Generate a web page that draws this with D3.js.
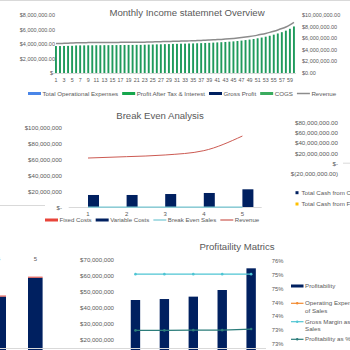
<!DOCTYPE html>
<html>
<head>
<meta charset="utf-8">
<script src="https://cdn.jsdelivr.net/npm/d3@7/dist/d3.min.js"></script>
<style>
body { margin: 0; background: #fff; }
svg { font-family: "Liberation Sans", Arial, sans-serif; }
</style>
</head>
<body>
<div id="dash"></div>
<script>
//Monthly income statement (values in $ millions)
var months = [1,2,3,4,5,6,7,8,9,10,11,12,13,14,15,16,17,18,19,20,21,22,23,24,25,26,27,28,29,30,
              31,32,33,34,35,36,37,38,39,40,41,42,43,44,45,46,47,48,49,50,51,52,53,54,55,56,57,58,59,60];
var cogs = [3.72,3.72,3.73,3.74,3.75,3.80,3.81,3.81,3.82,3.82,
            3.83,3.83,3.84,3.84,3.85,3.85,3.86,3.86,3.87,3.87,
            3.88,3.88,3.90,3.92,3.93,3.95,3.96,3.98,3.99,4.01,
            4.02,4.04,4.05,4.07,4.08,4.10,4.12,4.14,4.16,4.19,
            4.22,4.25,4.28,4.32,4.36,4.41,4.47,4.54,4.61,4.69,
            4.79,4.89,5.01,5.14,5.29,5.45,5.63,5.84,6.10,6.42];
var revenue = [5.05,5.06,5.07,5.09,5.14,5.18,5.19,5.19,5.20,5.20,
               5.21,5.21,5.22,5.22,5.23,5.23,5.24,5.24,5.25,5.25,
               5.26,5.26,5.28,5.30,5.32,5.34,5.36,5.38,5.40,5.42,
               5.44,5.46,5.48,5.50,5.52,5.55,5.58,5.61,5.64,5.68,
               5.72,5.76,5.81,5.86,5.92,5.99,6.07,6.16,6.26,6.37,
               6.50,6.64,6.80,6.98,7.18,7.40,7.64,7.92,8.28,8.70];
var topLeftTicks = [0,2,4,6,8];
var topLeftLabels = ["$-","$2,000,000.00","$4,000,000.00","$6,000,000.00","$8,000,000.00"];
var topRightTicks = [0,2,4,6,8,10];
var topRightLabels = ["$0.00","$2,000,000.00","$4,000,000.00","$6,000,000.00","$8,000,000.00","$10,000,000.00"];

//Break even analysis (values in $ millions)
var beYears = [1,2,3,4,5];
var fixedCosts = [0.3,0.3,0.3,0.3,0.3];
var variableCosts = [15.4,15.4,16.6,17.9,22.5];
var breakEvenSales = [0.3,0.3,0.3,0.3,0.3];
var beRevenue = [61.6,63.3,65.4,70.8,89.1];
var beTicks = [0,20,40,60,80,100];
var beLabels = ["$-","$20,000,000","$40,000,000","$60,000,000","$80,000,000","$100,000,000"];

//Cash flow chart (only its axis shows)
var cashTicks = [-20,0,20,40,60,80];
var cashLabels = ["$(20,000,000.00)","$-","$20,000,000.00","$40,000,000.00","$60,000,000.00","$80,000,000.00"];

//Bottom left chart (only years 4 and 5 show)
var blYears = [4,5];
var blMain = [47.1,58.9];
var blTop = [0.7,0.7];

//Profitability matrics
var pmYears = [1,2,3,4,5];
var profitability = [45.0,45.6,47.1,51.25,64.8];
var opexPct = [0.245,0.245,0.244,0.244,0.243];
var grossMarginPct = [0.7552,0.7552,0.7552,0.7552,0.7552];
var profitPct = [0.7347,0.7347,0.7348,0.7348,0.7352];
var pmTicks = [20,30,40,50,60,70];
var pmLabels = ["$20,000,000","$30,000,000","$40,000,000","$50,000,000","$60,000,000","$70,000,000"];
var pctTicks = [0.73,0.735,0.74,0.745,0.75,0.755,0.76];
var pctLabels = ["73%","73%","74%","74%","75%","75%","76%"];

var textGrey = "#595959";
var axisGrey = "#d9d9d9";
var navy = "#002060";

var svg = d3.select("#dash")
  .append("svg")
  .attr("width", 350)
  .attr("height", 350);

//helper: axis with fixed labels, no tick marks
function drawAxis(axis, tx, ty, fs, anchor) {
  var g = svg.append("g")
    .attr("transform", "translate(" + tx + "," + ty + ")")
    .call(axis.tickSize(0));
  g.select(".domain").remove();
  g.selectAll("text")
    .attr("fill", textGrey)
    .style("font-size", fs + "px")
    .style("font-family", "Liberation Sans, Arial, sans-serif");
  if (anchor) g.selectAll("text").attr("text-anchor", anchor);
  return g;
}

//helper: legend laid out in a row
function drawLegend(items, x0, y, fs) {
  var x = x0;
  items.forEach(function(it) {
    if (it.type == "bar") {
      svg.append("rect").attr("x", x).attr("y", y - 1.5).attr("width", 13).attr("height", 3).attr("fill", it.color);
    } else {
      svg.append("line").attr("x1", x).attr("x2", x + 13).attr("y1", y).attr("y2", y)
        .attr("stroke", it.color).attr("stroke-width", it.w || 1.2);
    }
    var t = svg.append("text").attr("x", x + 14.5).attr("y", y).attr("dy", "0.35em")
      .attr("fill", textGrey).style("font-size", fs + "px").text(it.name);
    x += 14.5 + t.node().getComputedTextLength() + 4;
  });
}

function title(txt, x, y) {
  svg.append("text").attr("x", x).attr("y", y).attr("text-anchor", "middle")
    .attr("fill", textGrey).style("font-size", "9.6px").text(txt);
}

//top border
svg.append("line").attr("x1", 0).attr("x2", 350).attr("y1", 0.5).attr("y2", 0.5).attr("stroke", axisGrey);

// ---------- Monthly income statement ----------
var xTop = d3.scaleBand().domain(months).range([54, 296]);
var yTopL = d3.scaleLinear().domain([0, 8]).range([73, 15]);
var yTopR = d3.scaleLinear().domain([0, 10]).range([72.5, 15]);

title("Monthly Income statemnet Overview", 187, 16);

drawAxis(d3.axisLeft(yTopL).tickValues(topLeftTicks).tickFormat(function(d, i) { return topLeftLabels[i]; }).tickPadding(0), 55, 0, 5.5);
drawAxis(d3.axisRight(yTopR).tickValues(topRightTicks).tickFormat(function(d, i) { return topRightLabels[i]; }).tickPadding(0), 302, 0, 5.5);

svg.selectAll(".cogs")
  .data(cogs)
  .enter()
  .append("rect")
  .attr("class", "cogs")
  .attr("x", function(d, i) { return xTop(months[i]) + xTop.bandwidth() / 2 - 1; })
  .attr("y", function(d) { return yTopL(d); })
  .attr("width", 1.9)
  .attr("height", function(d) { return yTopL(0) - yTopL(d); })
  .attr("fill", "#1f9a5c");

var xAxTop = drawAxis(d3.axisBottom(xTop).tickValues(months.filter(function(m) { return m % 2 == 1; })).tickPadding(5), 0, 73, 5.3);
svg.append("line").attr("x1", 54).attr("x2", 296).attr("y1", 73.5).attr("y2", 73.5).attr("stroke", axisGrey);

var lineTop = d3.line()
  .x(function(d, i) { return xTop(months[i]) + xTop.bandwidth() / 2; })
  .y(function(d) { return yTopR(d); })
  .curve(d3.curveMonotoneX);
svg.append("path").datum(revenue).attr("d", lineTop)
  .attr("fill", "none").attr("stroke", "#8c8c8c").attr("stroke-width", 1.5);

drawLegend([
  {name: "Total Operational Expenses", color: "#4a86e8", type: "bar"},
  {name: "Profit After Tax & Interest", color: "#16a64c", type: "bar"},
  {name: "Gross Profit", color: navy, type: "bar"},
  {name: "COGS", color: "#3aab5e", type: "bar"},
  {name: "Revenue", color: "#8c8c8c", type: "line", w: 1.5}
], 28, 93.5, 6.2);

// ---------- Break even analysis ----------
var xBE = d3.scaleBand().domain(beYears).range([68.7, 261.7]);
var yBE = d3.scaleLinear().domain([0, 100]).range([207.3, 127.3]);

title("Break Even Analysis", 160, 118.5);

drawAxis(d3.axisLeft(yBE).tickValues(beTicks).tickFormat(function(d, i) { return beLabels[i]; }).tickPadding(0), 62, 0, 6.1);

svg.selectAll(".fixed")
  .data(fixedCosts).enter().append("rect")
  .attr("x", function(d, i) { return xBE(beYears[i]) + xBE.bandwidth() / 2 - 11; })
  .attr("y", function(d) { return yBE(d); })
  .attr("width", 11)
  .attr("height", function(d) { return yBE(0) - yBE(d); })
  .attr("fill", "#e8443a");

svg.selectAll(".variable")
  .data(variableCosts).enter().append("rect")
  .attr("x", function(d, i) { return xBE(beYears[i]) + xBE.bandwidth() / 2; })
  .attr("y", function(d) { return yBE(d); })
  .attr("width", 11)
  .attr("height", function(d) { return yBE(0) - yBE(d); })
  .attr("fill", navy);

svg.append("line").attr("x1", 68.7).attr("x2", 261.7).attr("y1", 207.5).attr("y2", 207.5).attr("stroke", axisGrey);
drawAxis(d3.axisBottom(xBE).tickPadding(4), 0, 207.3, 6);

var lineBE = d3.line()
  .x(function(d, i) { return xBE(beYears[i]) + xBE.bandwidth() / 2; })
  .y(function(d) { return yBE(d); });
svg.append("path").datum(breakEvenSales).attr("d", lineBE)
  .attr("fill", "none").attr("stroke", "#74c6d2").attr("stroke-width", 1.2);
svg.append("path").datum(beRevenue).attr("d", lineBE.curve(d3.curveMonotoneX))
  .attr("fill", "none").attr("stroke", "#cc5a52").attr("stroke-width", 1);

drawLegend([
  {name: "Fixed Costs", color: "#e8443a", type: "bar"},
  {name: "Variable Costs", color: navy, type: "bar"},
  {name: "Break Even Sales", color: "#74c6d2", type: "line"},
  {name: "Revenue", color: "#cc5a52", type: "line"}
], 45, 220, 6.1);

//axis of the chart cut at the left edge
svg.append("line").attr("x1", 0).attr("x2", 45).attr("y1", 205.5).attr("y2", 205.5).attr("stroke", axisGrey);

// ---------- Cash chart (cut at right edge) ----------
var yCash = d3.scaleLinear().domain([-20, 80]).range([173.3, 122.7]);
drawAxis(d3.axisLeft(yCash).tickValues(cashTicks).tickFormat(function(d, i) { return cashLabels[i]; }).tickPadding(0), 338, 0, 6.2);
svg.append("line").attr("x1", 343).attr("x2", 350).attr("y1", yCash(0)).attr("y2", yCash(0)).attr("stroke", axisGrey);
svg.append("rect").attr("x", 295.5).attr("y", 191.2).attr("width", 3).attr("height", 3).attr("fill", navy);
svg.append("text").attr("x", 301.5).attr("y", 192.7).attr("dy", "0.35em").attr("fill", textGrey).style("font-size", "6.2px").text("Total Cash from Operations");
svg.append("rect").attr("x", 295.5).attr("y", 202.5).attr("width", 3).attr("height", 3).attr("fill", "#ffc000");
svg.append("text").attr("x", 301.5).attr("y", 204).attr("dy", "0.35em").attr("fill", textGrey).style("font-size", "6.2px").text("Total Cash from Financing");

// ---------- Bottom left chart (cut) ----------
var xBL = d3.scaleBand().domain(blYears).range([-19.6, 53.6]);
var yBL = d3.scaleLinear().domain([0, 70]).range([372, 260]);
svg.selectAll(".blmain")
  .data(blMain).enter().append("rect")
  .attr("x", function(d, i) { return xBL(blYears[i]) + xBL.bandwidth() / 2 - 7.3; })
  .attr("y", function(d) { return yBL(d); })
  .attr("width", 14.6)
  .attr("height", function(d) { return yBL(0) - yBL(d); })
  .attr("fill", navy);
svg.selectAll(".bltop")
  .data(blTop).enter().append("rect")
  .attr("x", function(d, i) { return xBL(blYears[i]) + xBL.bandwidth() / 2 - 7.3; })
  .attr("y", function(d, i) { return yBL(blMain[i] + d); })
  .attr("width", 14.6)
  .attr("height", function(d, i) { return yBL(blMain[i]) - yBL(blMain[i] + d); })
  .attr("fill", "#e0534b");
drawAxis(d3.axisBottom(xBL).tickPadding(4), 0, 253, 6);

// ---------- Profitability matrics ----------
var xPM = d3.scaleBand().domain(pmYears).range([121, 265.6]);
var yPM = d3.scaleLinear().domain([0, 70]).range([372, 260]);
var yPct = d3.scaleLinear().domain([0.73, 0.76]).range([343.3, 261]);

title("Profitaility Matrics", 237, 250);

drawAxis(d3.axisLeft(yPM).tickValues(pmTicks).tickFormat(function(d, i) { return pmLabels[i]; }).tickPadding(0), 114, 0, 6.1);
drawAxis(d3.axisRight(yPct).tickValues(pctTicks).tickFormat(function(d, i) { return pctLabels[i]; }).tickPadding(0), 271.7, 0, 5.8);

svg.selectAll(".profit")
  .data(profitability).enter().append("rect")
  .attr("x", function(d, i) { return xPM(pmYears[i]) + xPM.bandwidth() / 2 - 4.7; })
  .attr("y", function(d) { return yPM(d); })
  .attr("width", 9.4)
  .attr("height", function(d) { return yPM(0) - yPM(d); })
  .attr("fill", navy);

svg.append("clipPath").attr("id", "pmclip")
  .append("rect").attr("x", 115).attr("y", 255).attr("width", 160).attr("height", 95);

var linePM = d3.line()
  .x(function(d, i) { return xPM(pmYears[i]) + xPM.bandwidth() / 2; })
  .y(function(d) { return yPct(d); });

[[opexPct, "#f28a30"], [grossMarginPct, "#4ec5d3"], [profitPct, "#2b7c7a"]].forEach(function(s) {
  var g = svg.append("g").attr("clip-path", "url(#pmclip)");
  g.append("path").datum(s[0]).attr("d", linePM)
    .attr("fill", "none").attr("stroke", s[1]).attr("stroke-width", 1.2);
  g.selectAll("circle").data(s[0]).enter().append("circle")
    .attr("cx", function(d, i) { return xPM(pmYears[i]) + xPM.bandwidth() / 2; })
    .attr("cy", function(d) { return yPct(d); })
    .attr("r", 1.3)
    .attr("fill", s[1]);
});

svg.append("line").attr("x1", 0).attr("x2", 266).attr("y1", 348.5).attr("y2", 348.5).attr("stroke", axisGrey);

//profitability legend (stacked)
var pmLegend = [
  {lines: ["Profitability"], color: navy, type: "bar", y: 286},
  {lines: ["Operating Expenses as %", "of Sales"], color: "#f28a30", type: "line", y: 303.3},
  {lines: ["Gross Margin as % of", "Sales"], color: "#4ec5d3", type: "line", y: 321.7},
  {lines: ["Profitability as % of Sales"], color: "#2b7c7a", type: "line", y: 339.3}
];
pmLegend.forEach(function(it) {
  if (it.type == "bar") {
    svg.append("rect").attr("x", 291).attr("y", it.y - 1.5).attr("width", 12.5).attr("height", 3).attr("fill", it.color);
  } else {
    svg.append("line").attr("x1", 291).attr("x2", 303.5).attr("y1", it.y).attr("y2", it.y).attr("stroke", it.color).attr("stroke-width", 1.2);
    svg.append("circle").attr("cx", 297.2).attr("cy", it.y).attr("r", 1.2).attr("fill", it.color);
  }
  it.lines.forEach(function(l, j) {
    svg.append("text").attr("x", 305).attr("y", it.y + j * 7.5).attr("dy", "0.35em")
      .attr("fill", textGrey).style("font-size", "6.2px").text(l);
  });
});
</script>
</body>
</html>
